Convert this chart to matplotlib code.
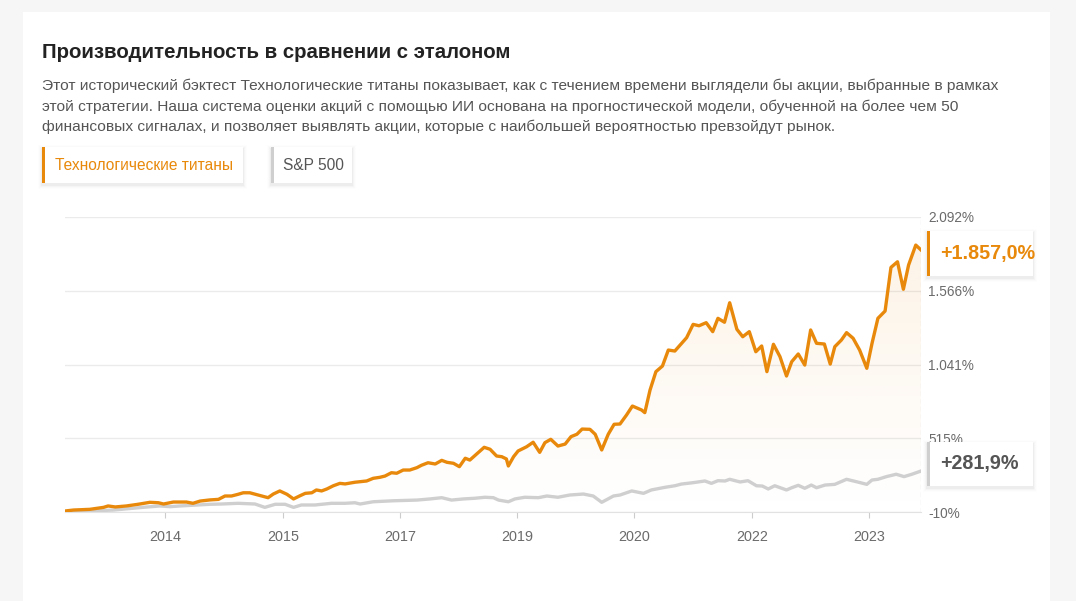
import numpy as np
import matplotlib
matplotlib.use("Agg")
import matplotlib.pyplot as plt
from matplotlib.patches import Rectangle, Polygon
from matplotlib.colors import to_rgb

plt.rcParams['font.family'] = ['Liberation Sans', 'DejaVu Sans']

W, H = 1076, 601

# x = months since start of the backtest, y = cumulative return in %
titans_t = [0, 1.3, 3.8, 5.9, 6.6, 7.7, 9.4, 11.2, 13.0, 14.3,
            15.1, 16.6, 18.6, 19.6, 20.7, 22.2, 23.5, 24.5, 25.5, 26.5,
            27.3, 28.3, 29.6, 31.1, 31.9, 32.9, 34.0, 35.0, 36.0, 36.8,
            37.8, 38.5, 39.3, 40.1, 41.1, 42.1, 42.9, 44.4, 46.2, 47.2,
            48.2, 49.0, 50.0, 50.8, 51.8, 52.8, 53.9, 54.6, 55.6, 56.7,
            57.7, 58.5, 59.5, 60.4, 61.3, 62.0, 63.0, 64.2, 65.1, 66.1,
            66.9, 67.6, 67.9, 68.7, 69.4, 70.7, 71.7, 72.7, 73.5, 74.4,
            75.5, 76.6, 77.5, 78.4, 79.2, 80.4, 81.2, 82.2, 83.2, 84.1,
            85.0, 86.0, 86.9, 88.3, 88.8, 89.6, 90.5, 91.5, 92.4, 93.4,
            95.2, 96.2, 97.1, 98.2, 99.2, 100.0, 101.0, 101.8, 102.9, 103.8,
            104.8, 105.8, 106.7, 107.5, 108.5, 109.5, 110.5, 111.3, 112.3, 113.3,
            114.2, 115.1, 116.3, 117.2, 117.9, 118.9, 119.7, 120.7, 121.7, 122.8,
            123.6, 124.5, 125.6, 126.5, 127.5, 128.4, 129.2, 130.3, 131.1]
titans_val = [-3, 4, 9, 23, 33, 26, 33, 45, 59, 56,
              47, 61, 61, 52, 68, 76, 80, 104, 104, 116,
              127, 127, 111, 92, 118, 140, 116, 83, 106, 123,
              127, 147, 140, 154, 177, 194, 190, 202, 211, 230,
              237, 246, 270, 266, 289, 289, 306, 323, 341, 332,
              358, 344, 337, 313, 373, 360, 401, 451, 437, 389,
              384, 368, 318, 384, 425, 455, 487, 415, 484, 508,
              460, 474, 527, 544, 581, 579, 544, 432, 544, 615,
              617, 681, 745, 717, 698, 859, 990, 1030, 1144, 1137,
              1232, 1327, 1317, 1339, 1275, 1370, 1342, 1481, 1292, 1239,
              1275, 1132, 1173, 990, 1185, 1097, 959, 1061, 1116, 1037,
              1287, 1192, 1187, 1044, 1168, 1215, 1268, 1228, 1144, 1014,
              1192, 1370, 1422, 1733, 1773, 1577, 1750, 1892, 1857]

sp_t = [0, 3.8, 7.4, 11.9, 14.5, 16.1, 17.6, 22.2, 24.0, 26.5,
        29.1, 30.6, 32.2, 33.7, 35.0, 36.2, 38.3, 40.8, 42.9, 44.4,
        45.2, 47.2, 50.3, 53.9, 55.9, 57.7, 59.2, 61.0, 62.8, 64.3,
        65.6, 66.4, 67.9, 68.9, 70.4, 72.5, 73.8, 75.5, 77.3, 79.4,
        80.9, 82.2, 84.0, 85.0, 86.8, 88.6, 89.8, 91.9, 93.4, 94.4,
        96.2, 98.0, 99.0, 100.0, 101.1, 101.8, 103.4, 104.6, 105.9, 106.8,
        107.7, 108.7, 110.5, 111.3, 112.3, 113.3, 114.3, 115.1, 116.4, 117.9,
        119.7, 121.2, 122.8, 123.6, 124.5, 125.8, 127.3, 128.5, 129.7, 131.1]
sp_val = [-8, -3, 4, 23, 33, 28, 33, 45, 47, 52,
          47, 23, 45, 45, 23, 40, 40, 52, 52, 56,
          47, 63, 70, 75, 83, 92, 75, 83, 88, 95,
          92, 75, 63, 83, 95, 92, 104, 95, 111, 118,
          104, 59, 104, 111, 140, 123, 147, 166, 177, 189,
          199, 211, 194, 213, 211, 223, 204, 213, 177, 175,
          154, 177, 147, 163, 180, 159, 182, 163, 182, 187,
          223, 206, 187, 218, 223, 242, 259, 242, 259, 282]

x_ticks = [15.3, 33.4, 51.3, 69.2, 87.1, 105.2, 123.1]
x_labels = ['2014', '2015', '2017', '2019', '2020', '2022', '2023']
y_ticks = [-10, 515, 1041, 1566, 2092]
y_labels = ['-10%', '515%', '1.041%', '1.566%', '2.092%']

title = 'Производительность в сравнении с эталоном'
body = ['Этот исторический бэктест Технологические титаны показывает, как с течением времени выглядели бы акции, выбранные в рамках',
        'этой стратегии. Наша система оценки акций с помощью ИИ основана на прогностической модели, обученной на более чем 50',
        'финансовых сигналах, и позволяет выявлять акции, которые с наибольшей вероятностью превзойдут рынок.']
series_names = ['Технологические титаны', 'S&P 500']
end_labels = ['+1.857,0%', '+281,9%']

ORANGE = '#e8890c'
GRAY = '#cfcfcf'
TXT = '#555555'

fig = plt.figure(figsize=(W / 100, H / 100), dpi=100)


def px_axes(x0, y0, x1, y1, z):
    a = fig.add_axes([x0 / W, 1 - y1 / H, (x1 - x0) / W, (y1 - y0) / H], zorder=z)
    return a


# page + card
bg = px_axes(0, 0, W, H, 0)
bg.set_xlim(0, W)
bg.set_ylim(H, 0)
bg.axis('off')
bg.add_patch(Rectangle((0, 0), W, H, color='#f6f6f6', lw=0))
bg.add_patch(Rectangle((23, 12), 1027, H, color='white', lw=0))

# chart
ax = px_axes(65, 217, 921, 512, 1)
ax.patch.set_visible(False)
xmax = titans_t[-1]

poly = Polygon(np.column_stack([[titans_t[0]] + titans_t + [xmax],
                                [-10] + titans_val + [-10]]),
               closed=True, facecolor='none', edgecolor='none')
ax.add_patch(poly)
grad = np.zeros((200, 1, 4))
grad[..., :3] = to_rgb(ORANGE)
grad[:, 0, 3] = np.linspace(0.0, 0.11, 200)
im = ax.imshow(grad, extent=[0, xmax, -10, 2092], origin='lower',
               aspect='auto', zorder=1)
im.set_clip_path(poly)

ax.plot(sp_t, sp_val, color=GRAY, lw=2.4, zorder=3, solid_joinstyle='round')
ax.plot(titans_t, titans_val, color=ORANGE, lw=2.4, zorder=4, solid_joinstyle='round')

ax.set_xlim(0, xmax)
ax.set_ylim(-10, 2092)
ax.set_yticks(y_ticks, y_labels)
ax.yaxis.tick_right()
ax.grid(axis='y', color='#ebebeb', lw=1)
ax.set_axisbelow(True)
ax.tick_params(axis='y', length=0, pad=5, labelcolor='#6b6b6b', labelsize=9.8)
ax.set_xticks(x_ticks, x_labels)
ax.tick_params(axis='x', length=4.5, width=0.8, color='#cccccc', pad=8.5,
               labelcolor='#6b6b6b', labelsize=10.4)
for s in ['top', 'left', 'right']:
    ax.spines[s].set_visible(False)
ax.spines['bottom'].set_color('#e2e2e2')
ax.axvline(xmax, color='#b5b5b5', lw=0.8, ls=(0, (4, 3)), zorder=2)

# overlay: texts, buttons and end value boxes
ov = px_axes(0, 0, W, H, 5)
ov.set_xlim(0, W)
ov.set_ylim(H, 0)
ov.axis('off')


def card(x0, y0, x1, y1, bar_color):
    for i, a in enumerate([0.03, 0.02, 0.012, 0.006]):
        d = i + 1
        ov.add_patch(Rectangle((x0 - d, y0 - d + 2), x1 - x0 + 2 * d, y1 - y0 + 2 * d,
                               color='black', alpha=a, lw=0))
    ov.add_patch(Rectangle((x0, y0), x1 - x0, y1 - y0, color='white', lw=0))
    ov.add_patch(Rectangle((x0, y0), 3, y1 - y0, color=bar_color, lw=0))


ov.text(42, 52, title, fontsize=14.7, fontweight='bold', color='#222222', va='center')
for i, line in enumerate(body):
    ov.text(42, 86 + i * 20.5, line, fontsize=11.15, color=TXT, va='center')

card(42, 147, 243, 183, ORANGE)
ov.text(55, 165, series_names[0], fontsize=11.2, color=ORANGE, va='center')
card(271, 147, 352, 183, GRAY)
ov.text(283, 165, series_names[1], fontsize=11.2, color=TXT, va='center')

card(927, 231, 1033, 276, ORANGE)
ov.text(940, 254, end_labels[0], fontsize=14.2, fontweight='bold', color=ORANGE, va='center')
card(927, 442, 1033, 486, GRAY)
ov.text(940, 464, end_labels[1], fontsize=14.2, fontweight='bold', color=TXT, va='center')

fig.savefig('out.png', dpi=100)
